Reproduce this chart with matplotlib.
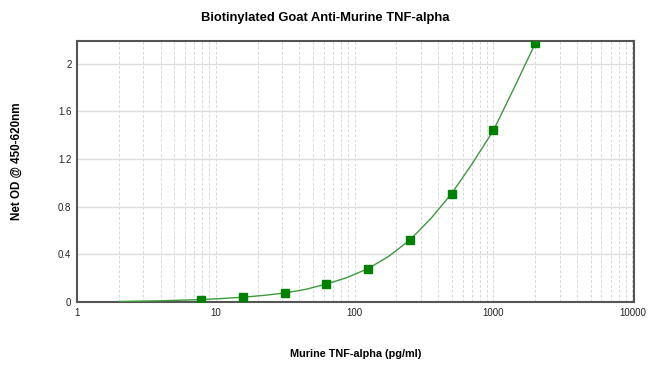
import matplotlib

matplotlib.use("Agg")
import matplotlib.pyplot as plt  # noqa: E402
from matplotlib.ticker import LogLocator, FixedLocator, NullFormatter  # noqa: E402

plt.rcParams["font.family"] = ["Liberation Sans", "DejaVu Sans"]

# standards (pg/ml) and net OD
conc = [7.8125, 15.625, 31.25, 62.5, 125, 250, 500, 1000, 2000]
od = [0.02, 0.04, 0.075, 0.15, 0.28, 0.52, 0.91, 1.44, 2.17]
# fitted curve (starts a bit left of the lowest standard)
curve_x = [2, 4, 7.8125, 11, 15.625, 22, 31.25, 44, 62.5, 88, 125, 177,
           250, 354, 500, 707, 1000, 1414, 2000]
curve_y = [0.004, 0.01, 0.02, 0.029, 0.04, 0.055, 0.075, 0.105, 0.15, 0.205,
           0.28, 0.385, 0.52, 0.7, 0.91, 1.165, 1.44, 1.80, 2.17]

x_ticks = [1, 10, 100, 1000, 10000]
y_ticks = [0, 0.4, 0.8, 1.2, 1.6, 2]

fig = plt.figure(figsize=(6.5, 3.8), dpi=100)
ax = fig.add_axes([0.1185, 0.2053, 0.857, 0.687])

ax.plot(curve_x, curve_y, color="#3c9a3c", linewidth=1.0, zorder=3)
ax.plot(conc, od, linestyle="none", marker="s", markersize=5.5,
        color="#008000", zorder=4)

ax.set_xscale("log")
ax.set_xlim(1, 10300)
ax.set_ylim(0, 2.19)

ax.xaxis.set_major_locator(FixedLocator(x_ticks))
ax.set_xticklabels([str(t) for t in x_ticks])
ax.xaxis.set_minor_locator(LogLocator(base=10, subs=range(2, 10)))
ax.xaxis.set_minor_formatter(NullFormatter())
ax.set_yticks(y_ticks)
ax.set_yticklabels(["0", "0.4", "0.8", "1.2", "1.6", "2"])

ax.grid(True, which="both", axis="x", color="#d8d8d8", linestyle=(0, (3, 2)), linewidth=0.7)
ax.grid(True, which="major", axis="y", color="#dcdcdc", linestyle="-", linewidth=1.0)
ax.tick_params(which="both", length=0, labelsize=7, colors="#222222", pad=4)

for s in ax.spines.values():
    s.set_color("#555555")
    s.set_linewidth(1.5)

fig.text(0.5, 0.952, "Biotinylated Goat Anti-Murine TNF-alpha", ha="center",
         va="center", fontsize=9.4, weight="bold")
ax.set_xlabel("Murine TNF-alpha (pg/ml)", fontsize=7.8, weight="bold", labelpad=23)
ax.set_ylabel("Net OD @ 450-620nm", fontsize=8.4, weight="bold")
ax.yaxis.set_label_coords(-0.097, 0.54)

fig.savefig("out.png", dpi=100)
plt.close(fig)
